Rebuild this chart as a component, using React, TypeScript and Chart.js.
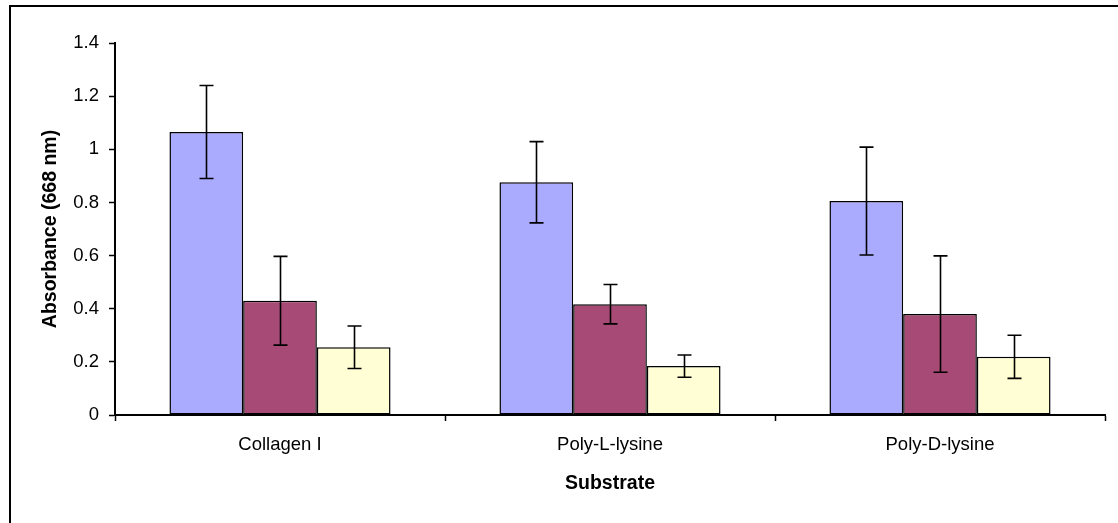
import React, { useEffect, useRef } from "react";
import { Chart, registerables, Plugin } from "chart.js";

Chart.register(...registerables);

const categories = ["Collagen I", "Poly-L-lysine", "Poly-D-lysine"];

const series1Values = [1.065, 0.876, 0.805];
const series1Errors = [0.175, 0.153, 0.203];

const series2Values = [0.43, 0.417, 0.38];
const series2Errors = [0.167, 0.074, 0.219];

const series3Values = [0.255, 0.184, 0.219];
const series3Errors = [0.08, 0.042, 0.081];

const yTicks = [0, 0.2, 0.4, 0.6, 0.8, 1, 1.2, 1.4];

const errorsByDataset = [series1Errors, series2Errors, series3Errors];

const FONT = "'Liberation Sans', Arial, sans-serif";

// Symmetric error bars with caps, drawn over each bar
const errorBarPlugin: Plugin<"bar"> = {
  id: "errorBars",
  afterDatasetsDraw(chart) {
    const { ctx } = chart;
    const yScale = chart.scales.y;
    ctx.save();
    ctx.strokeStyle = "#000";
    ctx.lineWidth = 1.6;
    chart.data.datasets.forEach((ds, di) => {
      const meta = chart.getDatasetMeta(di);
      const errs = errorsByDataset[di];
      meta.data.forEach((bar: any, i) => {
        const v = ds.data[i] as number;
        const e = errs[i];
        const x = Math.round(bar.x) + 0.5;
        const yTop = yScale.getPixelForValue(v + e);
        const yBot = yScale.getPixelForValue(v - e);
        const cap = 7;
        ctx.beginPath();
        ctx.moveTo(x, yTop);
        ctx.lineTo(x, yBot);
        ctx.moveTo(x - cap, yTop);
        ctx.lineTo(x + cap, yTop);
        ctx.moveTo(x - cap, yBot);
        ctx.lineTo(x + cap, yBot);
        ctx.stroke();
      });
    });
    ctx.restore();
  },
};

// White background and the outer frame of the chart object
const framePlugin: Plugin<"bar"> = {
  id: "frame",
  beforeDraw(chart) {
    const { ctx, width, height } = chart;
    ctx.save();
    ctx.fillStyle = "#fff";
    ctx.fillRect(0, 0, width, height);
    ctx.strokeStyle = "#000";
    ctx.lineWidth = 2;
    ctx.strokeRect(10, 6, width + 100, height + 100);
    ctx.restore();
  },
};

export default function App() {
  const canvasRef = useRef<HTMLCanvasElement | null>(null);

  useEffect(() => {
    if (!canvasRef.current) return;
    const barStyle = {
      borderColor: "#000",
      borderWidth: 1.5,
      borderSkipped: false as const,
      categoryPercentage: 0.67,
      barPercentage: 1,
    };
    const chart = new Chart(canvasRef.current, {
      type: "bar",
      data: {
        labels: categories,
        datasets: [
          { label: "Series 1", data: series1Values, backgroundColor: "#AAAAFF", ...barStyle },
          { label: "Series 2", data: series2Values, backgroundColor: "#A84A76", ...barStyle },
          { label: "Series 3", data: series3Values, backgroundColor: "#FFFED4", ...barStyle },
        ],
      },
      options: {
        animation: false,
        responsive: false,
        devicePixelRatio: 1,
        layout: { padding: { left: 0, top: 43, right: 13, bottom: 0 } },
        plugins: {
          legend: { display: false },
          tooltip: { enabled: false },
        },
        scales: {
          x: {
            offset: true,
            grid: {
              display: true,
              offset: true,
              drawOnChartArea: false,
              drawTicks: true,
              tickLength: 6,
              tickWidth: 1.5,
              tickColor: "#000",
            },
            border: { display: true, color: "#000", width: 2 },
            ticks: {
              color: "#000",
              padding: 13,
              maxRotation: 0,
              font: { family: FONT, size: 18.5 },
            },
            title: {
              display: true,
              text: "Substrate",
              color: "#000",
              font: { family: FONT, size: 19.5, weight: "bold" },
              padding: { top: 0, bottom: 28 },
            },
            afterFit(scale) {
              scale.height = 108;
            },
          },
          y: {
            min: 0,
            max: 1.4,
            afterBuildTicks(scale) {
              scale.ticks = yTicks.map((v) => ({ value: v }));
            },
            grid: {
              display: true,
              drawOnChartArea: false,
              drawTicks: true,
              tickLength: 6,
              tickWidth: 1.5,
              tickColor: "#000",
            },
            border: { display: true, color: "#000", width: 2 },
            ticks: {
              color: "#000",
              padding: 10,
              font: { family: FONT, size: 18.5 },
              callback: (value) => String(Number(value)),
            },
            title: {
              display: true,
              text: "Absorbance (668 nm)",
              color: "#000",
              font: { family: FONT, size: 19.5, weight: "bold" },
              padding: { top: 39, bottom: 0 },
            },
            afterFit(scale) {
              scale.width = 115;
            },
          },
        },
      },
      plugins: [framePlugin, errorBarPlugin],
    });
    return () => chart.destroy();
  }, []);

  return (
    <div style={{ position: "absolute", left: 0, top: 0, width: 1118, height: 523 }}>
      <canvas ref={canvasRef} width={1118} height={523} style={{ display: "block" }} />
    </div>
  );
}
